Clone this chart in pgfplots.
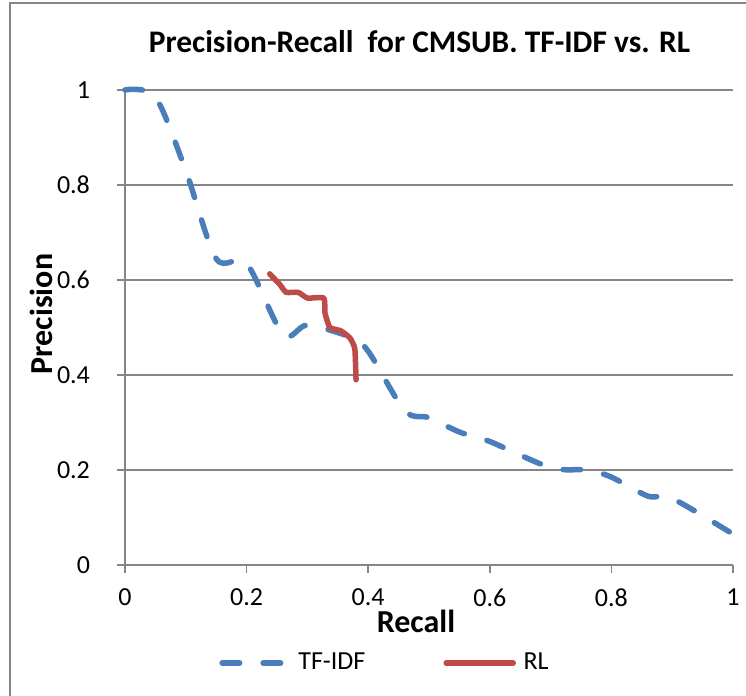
\documentclass[border=0pt]{standalone}
\usepackage{pgfplots}
\pgfplotsset{compat=1.18}
\usepackage{fontspec}
\setmainfont{Carlito}
\definecolor{tfblue}{HTML}{4A7EBB}
\definecolor{rlred}{HTML}{BE4B48}
\definecolor{axgray}{HTML}{868686}
\begin{document}
\begin{tikzpicture}
\useasboundingbox (0,0) rectangle (373pt,348pt);
\draw[axgray, line width=1pt] (4.75pt,-5pt) -- (4.75pt,346.25pt) -- (380pt,346.25pt);
\begin{axis}[
  at={(62.5pt,65.5pt)}, anchor=south west,
  scale only axis, width=304pt, height=237.5pt,
  xmin=0, xmax=1, ymin=0, ymax=1,
  axis x line=bottom, axis y line=left,
  axis line style={-, axgray, line width=0.8pt},
  xtick={0,0.2,0.4,0.6,0.8,1}, ytick={0,0.2,0.4,0.6,0.8,1},
  xticklabels={0,0.2,0.4,0.6,0.8,1},
  yticklabels={0,0.2,0.4,0.6,0.8,1},
  tick style={axgray, line width=0.8pt},
  major tick length=4pt,
  xtick align=outside, ytick align=outside,
  ymajorgrids, grid style={axgray, line width=0.8pt},
  tick label style={font=\fontsize{13}{15}\selectfont, text=black},
  xticklabel style={yshift=-4.5pt},
  yticklabel style={xshift=-10pt},
  /pgf/number format/assume math mode=true,
  clip=false,
  legend columns=2,
  legend style={at={(0.1546,-0.2063)}, anchor=west, draw=none, fill=none, inner sep=0pt,
    font=\fontsize{13}{15}\selectfont,
    /tikz/every even column/.append style={column sep=37pt}},
  legend cell align=left,
]
\addplot[tfblue, line width=2.75pt, line cap=round, dash pattern=on 8.75pt off 11.75pt, smooth, tension=0.5,
  legend image code/.code={\draw[tfblue, line width=2.75pt, line cap=round, dash pattern=on 8.75pt off 11.75pt] (0pt,0pt) -- (29.25pt,0pt); \path (34.75pt,0pt);}]
  coordinates {
(0,1.0) (0.05,0.985) (0.10,0.83) (0.15,0.645) (0.20,0.635) (0.26,0.485) (0.30,0.505)
(0.37,0.48) (0.40,0.45) (0.46,0.325) (0.50,0.31) (0.55,0.28) (0.60,0.26) (0.70,0.205)
(0.76,0.2) (0.80,0.185) (0.86,0.145) (0.90,0.14) (1.0,0.065)
  };
\addlegendentry{TF-IDF}
\addplot[rlred, line width=2.75pt, line cap=round, line join=round, smooth, tension=0.3,
  legend image code/.code={\draw[rlred, line width=2.75pt, line cap=round] (0pt,0pt) -- (33.5pt,0pt); \path (35.3pt,0pt);}]
  coordinates {
(0.238,0.613) (0.255,0.59) (0.265,0.574) (0.285,0.574) (0.30,0.562) (0.327,0.562)
(0.329,0.53) (0.337,0.50) (0.355,0.493) (0.37,0.478) (0.378,0.455) (0.38,0.39)
  };
\addlegendentry{RL}
\end{axis}
\node[font=\bfseries\fontsize{15.7}{18}\selectfont] at (209.75pt,327pt) {Precision-Recall\ \ for CMSUB. TF-IDF vs. RL};
\node[font=\bfseries\fontsize{16}{18}\selectfont] at (208pt,37.5pt) {Recall};
\node[font=\bfseries\fontsize{16}{18}\selectfont, rotate=90] at (20.5pt,191pt) {Precision};
\end{tikzpicture}
\end{document}
